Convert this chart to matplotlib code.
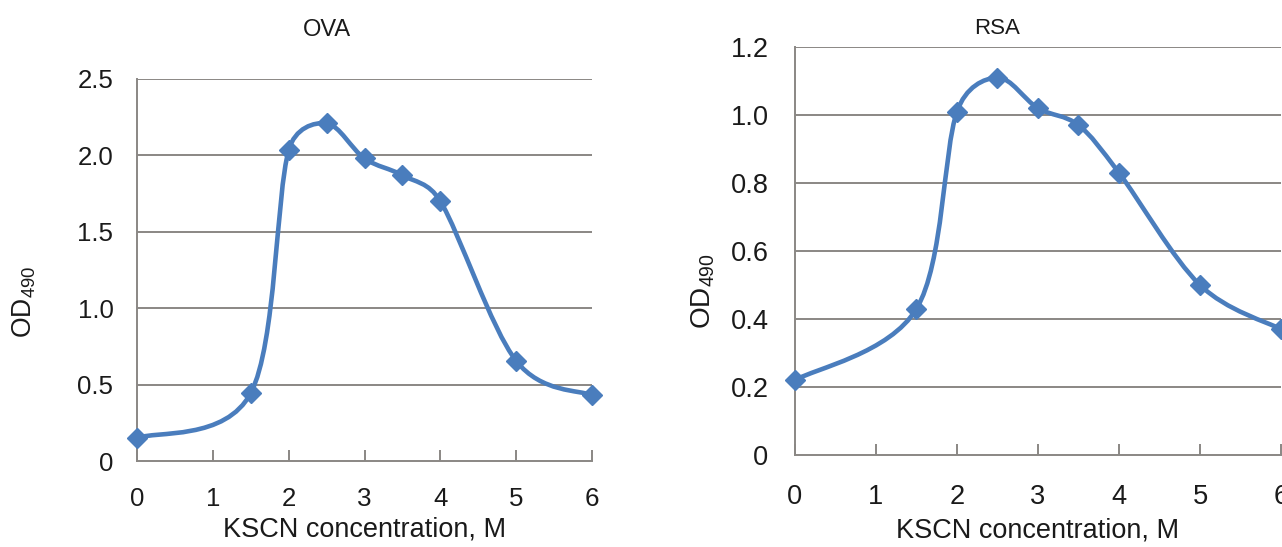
import numpy as np
import matplotlib
matplotlib.use("Agg")
import matplotlib.pyplot as plt
from matplotlib.path import Path
from matplotlib.patches import PathPatch

plt.rcParams['font.family'] = ['Liberation Sans', 'DejaVu Sans']
plt.rcParams['mathtext.fontset'] = 'custom'
plt.rcParams['mathtext.rm'] = 'Liberation Sans'
plt.rcParams['mathtext.it'] = 'Liberation Sans'

kscn = [0, 1.5, 2, 2.5, 3, 3.5, 4, 5, 6]
ova = [0.15, 0.445, 2.035, 2.21, 1.98, 1.87, 1.70, 0.655, 0.43]
rsa = [0.22, 0.43, 1.01, 1.11, 1.02, 0.97, 0.83, 0.50, 0.37]
x_ticks = [0, 1, 2, 3, 4, 5, 6]
ova_yticks = [0, 0.5, 1.0, 1.5, 2.0, 2.5]
ova_ylabels = ['0', '0.5', '1.0', '1.5', '2.0', '2.5']
rsa_yticks = [0, 0.2, 0.4, 0.6, 0.8, 1.0, 1.2]
rsa_ylabels = ['0', '0.2', '0.4', '0.6', '0.8', '1.0', '1.2']

BLUE = '#4a7dbd'
GRAY = '#8a8784'
TXT = '#1a1a1a'


def smooth_path(ax, xs, ys):
    # Excel-like smoothed line: Bezier segments, control vectors capped
    pts = np.column_stack([xs, ys]).astype(float)
    disp = ax.transData.transform(pts)
    n = len(pts)
    verts = [pts[0]]
    codes = [Path.MOVETO]
    inv = ax.transData.inverted()
    for i in range(n - 1):
        p0 = disp[i - 1] if i > 0 else disp[i]
        p1 = disp[i]
        p2 = disp[i + 1]
        p3 = disp[i + 2] if i + 2 < n else disp[i + 1]
        d12 = np.hypot(*(p2 - p1))
        d02 = np.hypot(*(p2 - p0))
        d13 = np.hypot(*(p3 - p1))
        f1 = 1 / 6.0 if d02 == 0 else min(1 / 6.0, 0.5 * d12 / d02)
        f2 = 1 / 6.0 if d13 == 0 else min(1 / 6.0, 0.5 * d12 / d13)
        c1 = p1 + (p2 - p0) * f1
        c2 = p2 - (p3 - p1) * f2
        for c in (c1, c2, p2):
            verts.append(inv.transform(c))
        codes += [Path.CURVE4] * 3
    return Path(verts, codes)


def draw(ax, ys, yticks, ylabels, fs, xfs, ypad, xpad, ylab_xy, xlab_y):
    ax.set_xlim(0, 6)
    ax.set_ylim(yticks[0], yticks[-1])
    for t in yticks[1:]:
        ax.axhline(t, color=GRAY, lw=1.4, zorder=1)
    ax.add_patch(PathPatch(smooth_path(ax, kscn, ys), fill=False, edgecolor=BLUE,
                           lw=3.3, zorder=3, capstyle='round'))
    ax.plot(kscn, ys, linestyle='none', marker='D', ms=10.5, color=BLUE,
            zorder=4, clip_on=False)
    for s in ['top', 'right']:
        ax.spines[s].set_visible(False)
    for s in ['left', 'bottom']:
        ax.spines[s].set_color(GRAY)
        ax.spines[s].set_linewidth(1.4)
    ax.set_xticks(x_ticks)
    ax.set_xticklabels([str(t) for t in x_ticks])
    ax.set_yticks(yticks)
    ax.set_yticklabels(ylabels)
    ax.tick_params(axis='x', direction='in', length=8, width=1.4, color=GRAY,
                   labelsize=fs, pad=xpad, labelcolor=TXT)
    ax.tick_params(axis='y', length=0, labelsize=fs, pad=ypad, labelcolor=TXT)
    ax.set_xlabel('KSCN concentration, M', fontsize=xfs, color=TXT, va='top')
    ax.xaxis.set_label_coords(0.5, xlab_y)
    ax.set_ylabel(r'OD$_{\mathregular{490}}$', fontsize=fs + 0.5, color=TXT)
    ax.yaxis.set_label_coords(*ylab_xy)


fig = plt.figure(figsize=(12.82, 5.47), dpi=100)
ax1 = fig.add_axes([0.1069, 0.1572, 0.3549, 0.6984])
ax2 = fig.add_axes([0.6201, 0.1682, 0.3791, 0.7459])
draw(ax1, ova, ova_yticks, ova_ylabels, 18.6, 19.5, 17, 19, (-0.218, 0.416), -0.144)
draw(ax2, rsa, rsa_yticks, rsa_ylabels, 19.6, 19.5, 19, 21, (-0.16, 0.402), -0.153)
fig.text(327 / 1282, 1 - 30 / 547, 'OVA', ha='center', va='center', fontsize=17, color=TXT)
fig.text(997 / 1282, 1 - 28 / 547, 'RSA', ha='center', va='center', fontsize=16, color=TXT)
fig.savefig('out.png', dpi=100)
